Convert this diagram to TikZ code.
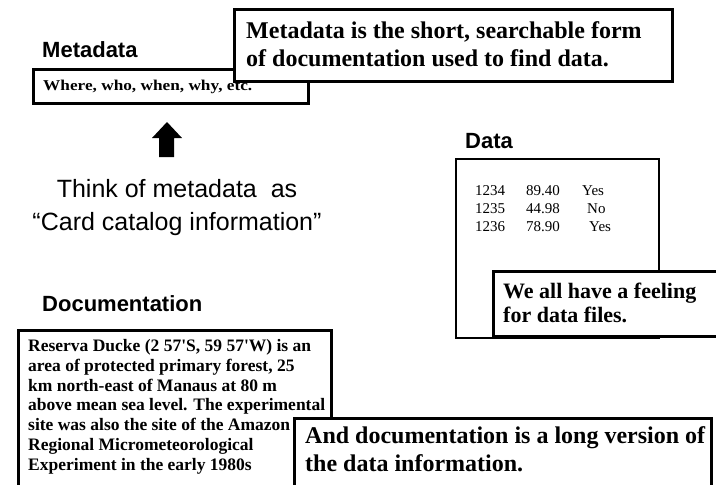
\documentclass[tikz,border=0pt]{standalone}
\usepackage{fontspec}
\setmainfont{Liberation Serif}
\newfontfamily\headfont{Liberation Sans}
\newfontfamily\widefont[FakeStretch=1.15]{Liberation Serif}
\begin{document}
\begin{tikzpicture}[x=1pt,y=-1pt,
  frame/.style={draw=black, line width=2.5pt, fill=white, inner sep=0pt, anchor=north west},
  thinframe/.style={draw=black, line width=1.6pt, fill=white, inner sep=0pt, anchor=north west},
  calltext/.style={anchor=base west, inner sep=0pt, align=left, font=\fontsize{24}{28}\selectfont\bfseries},
  smallcall/.style={anchor=base west, inner sep=0pt, align=left, font=\fontsize{22}{24}\selectfont\bfseries},
  doctext/.style={anchor=base west, inner sep=0pt, align=left, font=\fontsize{17.5}{19.7}\selectfont\bfseries},
  heading/.style={anchor=base west, inner sep=0pt, font=\headfont\fontsize{22}{26}\selectfont\bfseries},
  cell/.style={anchor=base west, inner sep=0pt, font=\fontsize{15}{18}\selectfont}]
\useasboundingbox (0,0) rectangle (716,485);

% --- Metadata ---
% (multi-line nodes are placed by the baseline of their last line)
\node[heading] (metahead) at (42,57) {Metadata};
\node[frame, minimum width=275pt, minimum height=34pt] (metabox) at (32,68) {};
\node[anchor=base west, inner sep=0pt, font=\widefont\fontsize{15}{18}\selectfont\bfseries]
  (metatext) at (43,90) {Where, who, when, why, etc.};

\node[frame, minimum width=438pt, minimum height=72pt] (metacall) at (233,8) {};
\node[calltext] (metacalltext) at (246,66)
  {Metadata is the short, searchable form\\of documentation used to find data.};

% --- block arrow and caption ---
\fill (159,157) -- (159,138) -- (152,138) -- (167,122) -- (182,138)
  -- (174,138) -- (174,157) -- cycle;
\node[anchor=base, inner sep=0pt, align=center, font=\headfont\fontsize{25}{33}\selectfont]
  (think) at (177,230) {Think of metadata\ \ as\\“Card catalog information”};

% --- Data ---
\node[heading] (datahead) at (465,148) {Data};
\node[thinframe, minimum width=203pt, minimum height=179pt] (databox) at (455,158) {};
\node[cell] (r1a) at (475,195) {1234};
\node[cell] (r1b) at (526,195) {89.40};
\node[cell] (r1c) at (582,195) {Yes};
\node[cell] (r2a) at (475,213) {1235};
\node[cell] (r2b) at (526,213) {44.98};
\node[cell] (r2c) at (587,213) {No};
\node[cell] (r3a) at (475,231) {1236};
\node[cell] (r3b) at (526,231) {78.90};
\node[cell] (r3c) at (589,231) {Yes};

\node[frame, minimum width=235pt, minimum height=65pt] (datacall) at (492,270) {};
\node[smallcall] (datacalltext) at (503,322) {We all have a feeling\\for data files.};

% --- Documentation ---
\node[heading] (dochead) at (42,311) {Documentation};
\node[frame, minimum width=313pt, minimum height=170pt] (docbox) at (17,329) {};
\node[doctext] (docbody) at (28,470)
  {Reserva Ducke (2 57\textquotesingle S, 59 57\textquotesingle W) is an\\
   area of protected primary forest, 25\\
   km north-east of Manaus at 80 m\\
   above mean sea level. The experimental\\
   site was also the site of the Amazon\\
   Regional Micrometeorological\\
   Experiment in the early 1980s};

\node[frame, minimum width=417pt, minimum height=80pt] (doccall) at (293,417) {};
\node[calltext] (doccalltext) at (305,471)
  {And documentation is a long version of\\the data information.};
\end{tikzpicture}
\end{document}
